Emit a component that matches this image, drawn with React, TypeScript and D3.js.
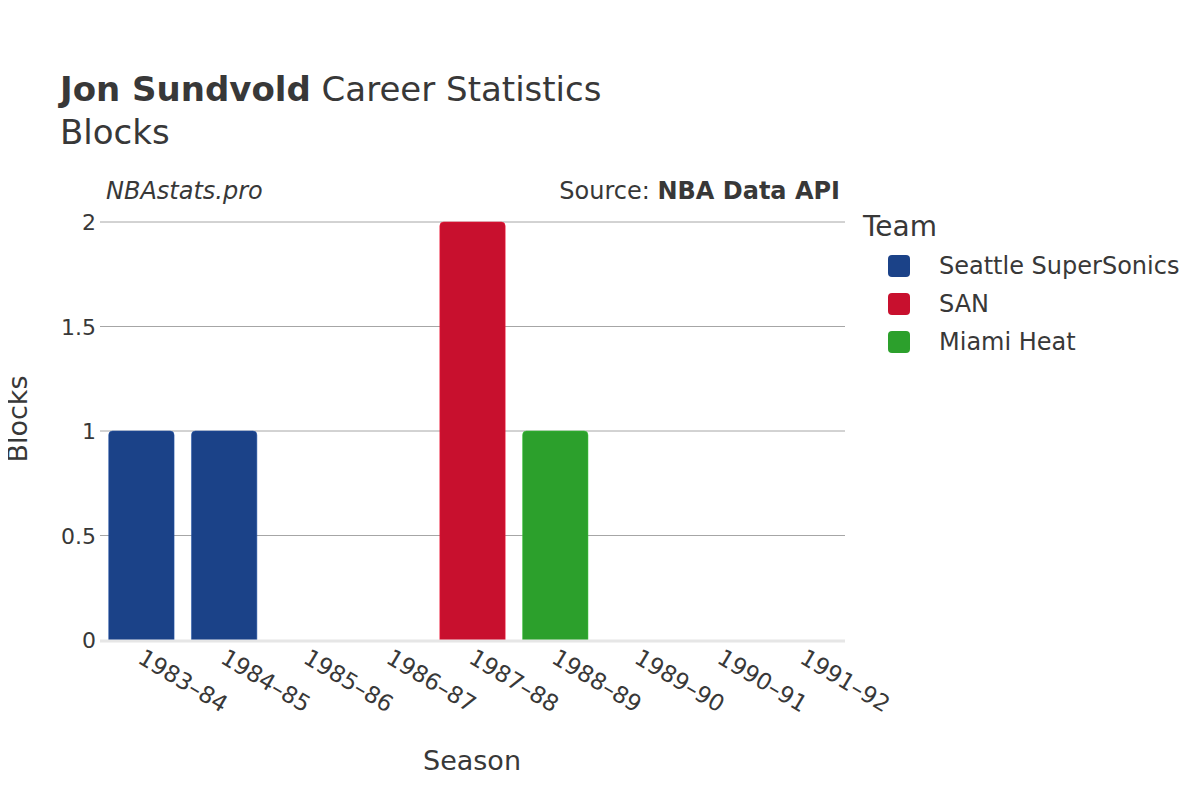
import { useEffect, useRef } from 'react';
import * as d3 from 'd3';

const seasons = ['1983–84', '1984–85', '1985–86', '1986–87', '1987–88', '1988–89', '1989–90', '1990–91', '1991–92'];
const blocks = [1, 1, 0, 0, 2, 1, 0, 0, 0];
const teamOf = ['Seattle SuperSonics', 'Seattle SuperSonics', 'Seattle SuperSonics', 'Seattle SuperSonics', 'SAN', 'Miami Heat', 'Miami Heat', 'Miami Heat', 'Miami Heat'];
const teams = ['Seattle SuperSonics', 'SAN', 'Miami Heat'];
const teamColors = ['#1b4288', '#c8102e', '#2ca02c'];
const yTicks = [0, 0.5, 1, 1.5, 2];

export default function App() {
  const svgRef = useRef<SVGSVGElement>(null);

  useEffect(() => {
    if (!svgRef.current) return;
    const svg = d3.select(svgRef.current);
    svg.selectAll('*').remove();

    const font = "'DejaVu Sans', sans-serif";
    const ink = '#383838';
    const left = 100, right = 845, top = 222, bottom = 640;

    const x = d3.scaleBand().domain(seasons).range([left, right]).paddingInner(0.21).paddingOuter(0.105);
    const y = d3.scaleLinear().domain([0, 2]).range([bottom, top]);
    const color = d3.scaleOrdinal<string, string>().domain(teams).range(teamColors);

    // grid
    svg.append('g').selectAll('line').data(yTicks.filter(t => t > 0)).join('line')
      .attr('x1', left).attr('x2', right)
      .attr('y1', d => y(d)).attr('y2', d => y(d))
      .attr('stroke', '#a6a6a6').attr('stroke-width', 1);

    // bars
    svg.append('g').selectAll('path').data(seasons).join('path')
      .attr('fill', (_d, i) => color(teamOf[i]))
      .attr('stroke', (_d, i) => d3.color(color(teamOf[i]))!.brighter(0.6).formatHex())
      .attr('stroke-width', 0.5)
      .attr('d', (d, i) => {
        const x0 = x(d)!, w = x.bandwidth();
        const y0 = y(blocks[i]);
        const h = bottom - y0;
        if (h <= 0) return '';
        const r = Math.min(4, h / 2);
        return `M${x0},${bottom} V${y0 + r} Q${x0},${y0} ${x0 + r},${y0} H${x0 + w - r} Q${x0 + w},${y0} ${x0 + w},${y0 + r} V${bottom} Z`;
      });

    // zero line
    svg.append('line').attr('x1', left).attr('x2', right).attr('y1', bottom + 1).attr('y2', bottom + 1)
      .attr('stroke', '#e6e6e6').attr('stroke-width', 3);

    // y tick labels
    svg.append('g').selectAll('text').data(yTicks).join('text')
      .attr('x', 96).attr('y', d => y(d) + 8)
      .attr('text-anchor', 'end').attr('font-family', font).attr('font-size', 22).attr('fill', ink)
      .text(d => d3.format('~g')(d));

    // x tick labels
    svg.append('g').selectAll('text').data(seasons).join('text')
      .attr('transform', d => `translate(${x(d)! + x.bandwidth() / 2 - 5},${bottom + 22}) rotate(31)`)
      .attr('text-anchor', 'start').attr('font-family', font).attr('font-size', 23).attr('fill', ink)
      .text(d => d);

    // axis titles
    svg.append('text').attr('x', 472).attr('y', 770).attr('text-anchor', 'middle')
      .attr('font-family', font).attr('font-size', 27).attr('fill', ink).text('Season');
    svg.append('text').attr('transform', 'translate(27,419) rotate(-90)').attr('text-anchor', 'middle')
      .attr('font-family', font).attr('font-size', 27).attr('fill', ink).text('Blocks');

    // title
    const title = svg.append('text').attr('x', 60).attr('y', 101)
      .attr('font-family', font).attr('font-size', 34).attr('fill', ink);
    title.append('tspan').attr('font-weight', 'bold').text('Jon Sundvold');
    title.append('tspan').text(' Career Statistics');
    svg.append('text').attr('x', 60).attr('y', 144)
      .attr('font-family', font).attr('font-size', 34).attr('fill', ink).text('Blocks');

    svg.append('text').attr('x', 106).attr('y', 199)
      .attr('font-family', font).attr('font-size', 24).attr('font-style', 'italic').attr('fill', ink)
      .text('NBAstats.pro');
    const src = svg.append('text').attr('x', 840).attr('y', 199).attr('text-anchor', 'end')
      .attr('font-family', font).attr('font-size', 24).attr('fill', ink);
    src.append('tspan').text('Source: ');
    src.append('tspan').attr('font-weight', 'bold').text('NBA Data API');

    // legend
    svg.append('text').attr('x', 863).attr('y', 236)
      .attr('font-family', font).attr('font-size', 28).attr('fill', ink).text('Team');
    const lg = svg.append('g').selectAll('g').data(teams).join('g')
      .attr('transform', (_d, i) => `translate(0,${266 + i * 38})`);
    lg.append('rect').attr('x', 888).attr('y', -11).attr('width', 22).attr('height', 22).attr('rx', 4)
      .attr('fill', d => color(d));
    lg.append('text').attr('x', 939).attr('y', 8)
      .attr('font-family', font).attr('font-size', 24).attr('fill', ink).text(d => d);
  }, []);

  return <svg ref={svgRef} width={1200} height={800} style={{ display: 'block', margin: -8 }} />;
}
